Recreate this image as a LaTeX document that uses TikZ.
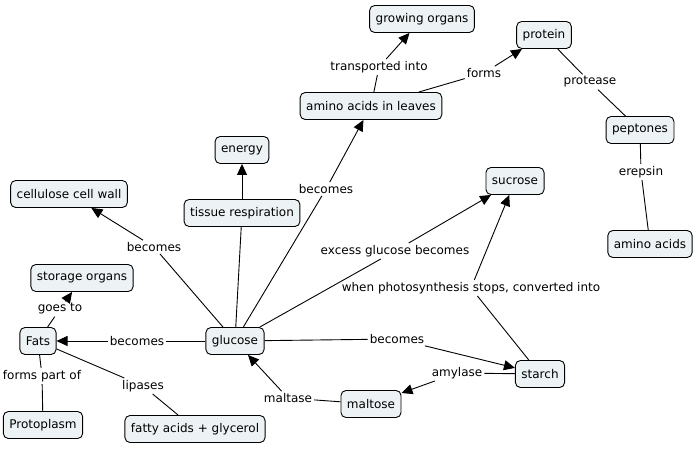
\documentclass[tikz,border=0pt]{standalone}
\usepackage{fontspec}
\setmainfont{DejaVu Sans}
\usetikzlibrary{arrows.meta,positioning}
\definecolor{conceptfill}{RGB}{237,242,245}

\begin{document}
\begin{tikzpicture}[x=1pt,y=-1pt,
    concept/.style={rectangle, rounded corners=5pt, minimum height=27pt, inner xsep=6pt, draw, fill=conceptfill, line width=0.9pt, font=\fontsize{12}{14}\selectfont},
    link/.style={fill=white, inner sep=2pt, font=\fontsize{12}{14}\selectfont},
    conn/.style={line width=0.9pt},
    arr/.style={conn, -{Triangle[length=11pt,width=10pt]}}
]
\useasboundingbox (0,0) rectangle (698,450);

% Concepts
\node (glucose) [concept] at (235,341) {glucose};
\node (fats) [concept] at (38,341) {Fats};
\node (storage) [concept] at (82,278) {storage organs};
\node (proto) [concept] at (43,425) {Protoplasm};
\node (fatty) [concept] at (195,429) {fatty acids + glycerol};
\node (cellulose) [concept] at (69,194) {cellulose cell wall};
\node (tissue) [concept] at (242,213) {tissue respiration};
\node (energy) [concept] at (242,150) {energy};
\node (aminoleaf) [concept] at (371,106) {amino acids in leaves};
\node (growing) [concept] at (422,19) {growing organs};
\node (protein) [concept] at (544,35) {protein};
\node (peptones) [concept] at (640,130) {peptones};
\node (amino) [concept] at (650,244) {amino acids};
\node (sucrose) [concept] at (515,181) {sucrose};
\node (starch) [concept] at (540,374) {starch};
\node (maltose) [concept] at (371,404) {maltose};

% Linking phrases
\node (lbFats) [link] at (137,341) {becomes};
\node (lbGoes) [link] at (60,309) {goes to};
\node (lbPart) [link] at (42,376) {forms part of};
\node (lbLip) [link] at (143,386) {lipases};
\node (lbCell) [link] at (154,247) {becomes};
\node (lbAmino) [link] at (326,189) {becomes};
\node (lbTrans) [link] at (379,67) {transported into};
\node (lbForms) [link] at (484,73) {forms};
\node (lbProt) [link] at (590,82) {protease};
\node (lbErep) [link] at (641,172) {erepsin};
\node (lbExcess) [link] at (395,251) {excess glucose becomes};
\node (lbPhoto) [link] at (471,288) {when photosynthesis stops, converted into};
\node (lbStarch) [link] at (397,339) {becomes};
\node (lbAmyl) [link] at (457,373) {amylase};
\node (lbMalt) [link] at (288,398) {maltase};

% Links
\draw[arr] (glucose) -- (lbFats) -- (fats);
\draw[arr] (fats) -- (lbGoes) -- (storage);
\draw[conn] (fats) -- (lbPart) -- (proto);
\draw[conn] (fats) -- (lbLip) -- (fatty);
\draw[arr] (glucose) -- (lbCell) -- (cellulose);
\draw[conn] (glucose) -- (tissue);
\draw[arr] (tissue) -- (energy);
\draw[arr] (glucose) -- (lbAmino) -- (aminoleaf);
\draw[arr] (aminoleaf) -- (lbTrans) -- (growing);
\draw[arr] (aminoleaf) -- (lbForms) -- (protein);
\draw[conn] (protein) -- (lbProt) -- (peptones);
\draw[conn] (peptones) -- (lbErep) -- (amino);
\draw[arr] (glucose) -- (lbExcess) -- (sucrose);
\draw[arr] (starch) -- (lbPhoto) -- (sucrose);
\draw[arr] (glucose) -- (lbStarch) -- (starch);
\draw[arr] (starch) -- (lbAmyl) -- (maltose);
\draw[arr] (maltose) -- (lbMalt) -- (glucose);

\end{tikzpicture}
\end{document}
